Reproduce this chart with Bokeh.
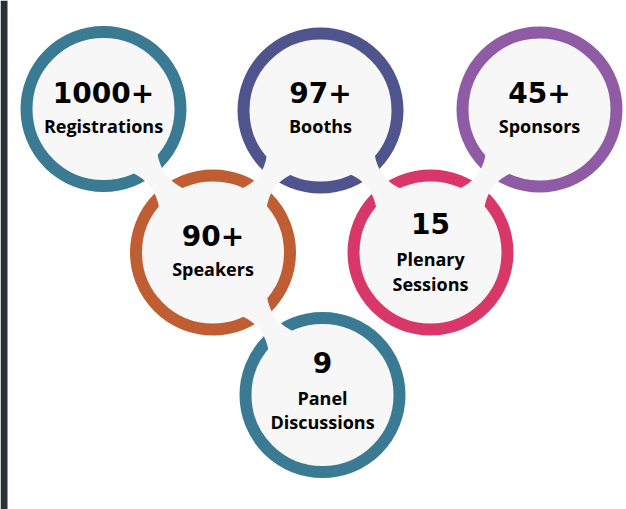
import numpy as np
from bokeh.plotting import figure
from bokeh.models import Range1d
from bokeh.core.properties import value
from bokeh.embed import file_html
from bokeh.resources import INLINE

# ---- data ----
numbers = ["1000+", "97+", "45+", "90+", "15", "9"]
label_line1 = ["Registrations", "Booths", "Sponsors", "Speakers", "Plenary", "Panel"]
label_line2 = ["", "", "", "", "Sessions", "Discussions"]
ring_colors = ["#3a7b93", "#4f558c", "#8f5ba5", "#bf5d33", "#d9376a", "#3a7b93"]

# ---- layout (image pixel coordinates) ----
cx = [103, 320, 539, 212.5, 430, 322]
cy = [108.5, 110, 109, 252, 252, 394.5]
num_y = [91.5, 91.5, 91.5, 234.5, 223, 362]
l1_y = [125, 125, 125, 268.5, 258.5, 397.5]
l2_y = [None, None, None, None, 283.5, 421.5]
links = [(0, 3), (1, 3), (1, 4), (2, 4), (3, 5)]

FILL = "#f7f7f7"
W, H = 626, 509

p = figure(width=W, height=H, x_range=Range1d(0, W), y_range=Range1d(H, 0),
           x_axis_type=None, y_axis_type=None, toolbar_location=None,
           output_backend="svg", min_border=0)
p.outline_line_color = None
p.background_fill_color = "white"
p.border_fill_color = "white"

# dark strip at the left edge of the source picture
p.quad(left=0, right=7, top=0, bottom=H, fill_color="#2b2f36", line_color=None)

# rings
p.circle(x=cx, y=cy, radius=77, fill_color=FILL, line_color=ring_colors, line_width=12)

# connectors (light bridges cut through rings)
xs, ys = [], []
for a, b in links:
    ax, ay, bx, by = cx[a], cy[a], cx[b], cy[b]
    dx, dy = bx - ax, by - ay
    D = np.hypot(dx, dy)
    ux, uy = dx / D, dy / D
    nx, ny = -uy, ux
    s = np.linspace(66, D - 66, 30)
    t = (s - D / 2) / (D / 2 - 66)
    hw = 10 + 7 * t ** 2
    px = ax + ux * s
    py = ay + uy * s
    lx, ly = px + nx * hw, py + ny * hw
    rx, ry = px - nx * hw, py - ny * hw
    xs.append(list(lx) + list(rx[::-1]))
    ys.append(list(ly) + list(ry[::-1]))
p.patches(xs=xs, ys=ys, fill_color=FILL, line_color=None)

# texts
p.text(x=cx, y=num_y, text=numbers, text_align="center", text_baseline="middle",
       text_font=value("DejaVu Sans"), text_font_style="bold", text_font_size="28px",
       text_color="black")
p.text(x=cx, y=l1_y, text=label_line1, text_align="center", text_baseline="middle",
       text_font=value("Open Sans"), text_font_style="bold", text_font_size="18px",
       text_color="black")
i2 = [i for i in range(len(label_line2)) if label_line2[i]]
p.text(x=[cx[i] for i in i2], y=[l2_y[i] for i in i2], text=[label_line2[i] for i in i2],
       text_align="center", text_baseline="middle",
       text_font=value("Open Sans"), text_font_style="bold", text_font_size="18px",
       text_color="black")

open("out.html", "w").write(file_html(p, INLINE))
